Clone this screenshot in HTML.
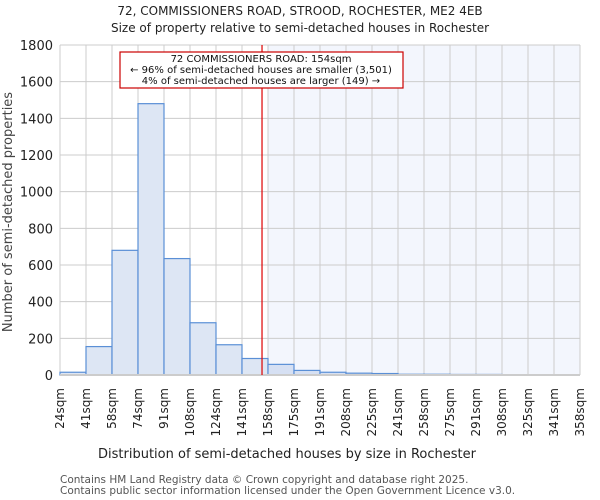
<!DOCTYPE html>
<html><head><meta charset="utf-8"><style>
body{margin:0;background:#fff}
svg{display:block;font-family:"DejaVu Sans","Liberation Sans",sans-serif}
</style></head><body>
<svg id="chart" width="600" height="500" viewBox="0 0 600 500" xmlns="http://www.w3.org/2000/svg">
<text x="300" y="15" text-anchor="middle" font-size="12" fill="#222">72, COMMISSIONERS ROAD, STROOD, ROCHESTER, ME2 4EB</text>
<text x="300" y="32" text-anchor="middle" font-size="12" fill="#222">Size of property relative to semi-detached houses in Rochester</text>
<g id="plot"></g>
<text x="287" y="458" text-anchor="middle" font-size="13" fill="#222">Distribution of semi-detached houses by size in Rochester</text>
<text transform="translate(12,212) rotate(-90)" text-anchor="middle" font-size="13" fill="#444">Number of semi-detached properties</text>
<text x="60" y="483" font-size="10.5" fill="#555">Contains HM Land Registry data © Crown copyright and database right 2025.</text>
<text x="60" y="494" font-size="10.5" fill="#555">Contains public sector information licensed under the Open Government Licence v3.0.</text>
</svg>
<script>
const binLabels=["24sqm","41sqm","58sqm","74sqm","91sqm","108sqm","124sqm","141sqm","158sqm","175sqm","191sqm","208sqm","225sqm","241sqm","258sqm","275sqm","291sqm","308sqm","325sqm","341sqm","358sqm"];
const counts=[15,155,680,1480,635,285,165,90,58,25,15,10,8,4,4,3,3,0,0,0];
const yTicks=[0,200,400,600,800,1000,1200,1400,1600,1800];
const propertyIndex=7.77;
const highlightStart=8;
const L=60,R=580,T=45,B=375,yMax=1800;
const NS="http://www.w3.org/2000/svg";
const g=document.getElementById('plot');
const bw=(R-L)/counts.length;
const xs=i=>L+i*bw;
const ys=v=>B-v/yMax*(B-T);
function el(t,a,p){const e=document.createElementNS(NS,t);for(const k in a)e.setAttribute(k,a[k]);(p||g).appendChild(e);return e;}
let hl=el('rect',{x:xs(highlightStart),y:T,width:R-xs(highlightStart),height:B-T,fill:'#f3f6fd'});


yTicks.forEach(v=>{
  let l=el('line',{x1:L,x2:R,y1:ys(v),y2:ys(v),stroke:'#ccc','stroke-width':1});
  
  
  let t=el('text',{x:L-7,y:ys(v)+5,'text-anchor':'end','font-size':13,fill:'#222'});
  t.textContent=v;
  
  
});
binLabels.forEach((s,i)=>{
  let l=el('line',{x1:xs(i),x2:xs(i),y1:T,y2:B,stroke:'#ccc','stroke-width':1});
  
  
  let t=el('text',{transform:`translate(${xs(i)+4},${B+13}) rotate(-90)`,'text-anchor':'end','font-size':12,fill:'#222'});
  t.textContent=s;
  
  
});
counts.forEach((c,i)=>{
  if(c<=0)return;
  let r=el('rect',{x:xs(i),y:ys(c),width:bw,height:B-ys(c),fill:i>=highlightStart?'#d6e0f3':'#dde6f4',stroke:'#5a8fd6','stroke-width':1.2});
  
  
});
let ax=el('line',{x1:L,x2:R,y1:B,y2:B,stroke:'#ccc','stroke-width':2});


const px=xs(propertyIndex);
let pl=el('line',{x1:px,x2:px,y1:T,y2:B,stroke:'#d00','stroke-width':1.2});


let box=el('rect',{x:120,y:52,width:283,height:36,fill:'#fff',stroke:'#c00','stroke-width':1.2});


["72 COMMISSIONERS ROAD: 154sqm","← 96% of semi-detached houses are smaller (3,501)","4% of semi-detached houses are larger (149) →"].forEach((s,i)=>{
  let t=el('text',{x:261,y:62+i*11,'text-anchor':'middle','font-size':10,fill:'#111'});
  t.textContent=s;
  
  
});
</script>
</body></html>
